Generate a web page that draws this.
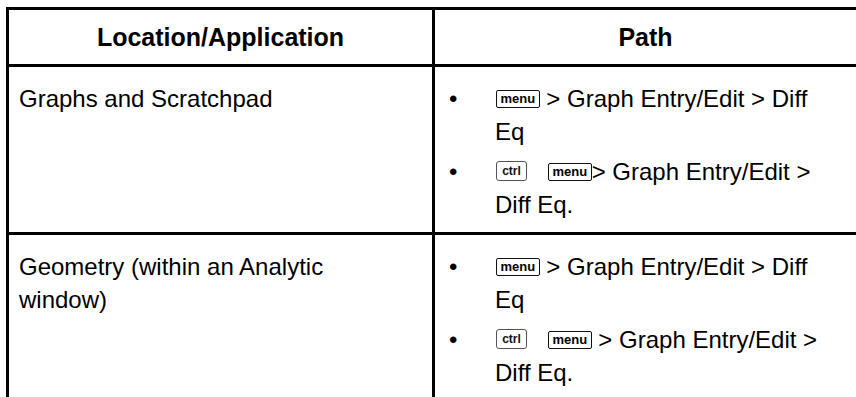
<!DOCTYPE html>
<html>
<head>
<meta charset="utf-8">
<script src="https://cdn.jsdelivr.net/npm/chart.js@4.4.1/dist/chart.umd.min.js"></script>
<style>
  html, body { margin: 0; padding: 0; background: #fff; }
  body { width: 856px; height: 397px; overflow: hidden; position: relative;
         font-family: "Liberation Sans", Arial, sans-serif; color: #000; }
  #tbl { position: absolute; left: 6px; top: 7px; display: grid;
         grid-template-columns: 426px 424px; grid-template-rows: 57px 168px 170px; }
  .cell { box-sizing: border-box; border-top: 3px solid #000; border-left: 3px solid #000; }
  .head { display: flex; align-items: center; justify-content: center;
          font-weight: bold; font-size: 25px; }
  .loc { font-size: 24px; line-height: 33px; padding: 15px 0 0 10px; }
  .path { font-size: 24px; line-height: 33px; padding: 15px 0 0 0; }
  .item { position: relative; padding-left: 60px; }
  .item + .item { margin-top: 7px; }
  .bullet { position: absolute; left: 14px; top: 0; }
  .key { display: inline-block; box-sizing: border-box; font-weight: bold;
         font-size: 13px; line-height: 16px; height: 18px; border: 1.2px solid #111;
         border-radius: 2px; padding: 0 3.5px; vertical-align: 4px; margin-left: 1px; }
  .ctrl { display: inline-block; box-sizing: border-box; font-size: 12px; font-weight: bold;
          line-height: 18px; height: 20px; width: 31px; text-align: center; color: #111;
          border: 1px solid #555; border-radius: 3px; vertical-align: 5px;
          margin-left: 1px; margin-right: 20px; }
</style>
</head>
<body>
<div id="tbl"></div>
<script>
// Table content
const headers = ["Location/Application", "Path"];
const locations = [
  ["Graphs and Scratchpad"],
  ["Geometry (within an Analytic", "window)"]
];
// Each path item: list of wrapped lines; [menu] and [ctrl] mark keys
const paths = [
  [ ["[menu] > Graph Entry/Edit > Diff", "Eq"],
    ["[ctrl] [menu]> Graph Entry/Edit >", "Diff Eq."] ],
  [ ["[menu] > Graph Entry/Edit > Diff", "Eq"],
    ["[ctrl] [menu] > Graph Entry/Edit >", "Diff Eq."] ]
];

function esc(s){ return s.replace(/&/g,"&amp;").replace(/</g,"&lt;").replace(/>/g,"&gt;"); }
function renderLine(s){
  let h = esc(s);
  h = h.replace(/\[ctrl\] /g, '<span class="ctrl">ctrl</span>');
  h = h.replace(/\[menu\]/g, '<span class="key">menu</span>');
  return h;
}
const tbl = document.getElementById("tbl");
headers.forEach(t => {
  const d = document.createElement("div");
  d.className = "cell head"; d.textContent = t; tbl.appendChild(d);
});
locations.forEach((loc, r) => {
  const a = document.createElement("div");
  a.className = "cell loc";
  a.innerHTML = loc.map(esc).join("<br>");
  tbl.appendChild(a);
  const b = document.createElement("div");
  b.className = "cell path";
  b.innerHTML = paths[r].map(item =>
    '<div class="item"><span class="bullet">•</span>' + item.map(renderLine).join("<br>") + '</div>'
  ).join("");
  tbl.appendChild(b);
});
</script>
</body>
</html>
